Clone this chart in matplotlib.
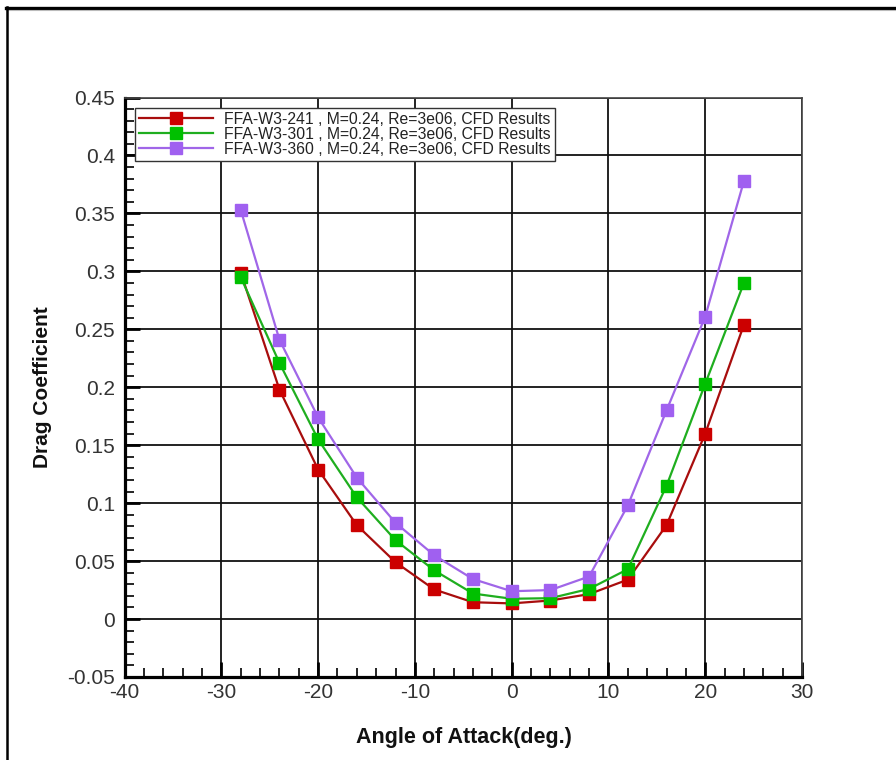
import matplotlib
matplotlib.use("Agg")
import matplotlib.pyplot as plt
from matplotlib.lines import Line2D
from matplotlib.ticker import MultipleLocator, FuncFormatter

plt.rcParams['font.family'] = ['Liberation Sans', 'DejaVu Sans']
plt.rcParams['axes.unicode_minus'] = False

# Angle of attack (deg.) and drag coefficients for the three airfoils
angles = [-28, -24, -20, -16, -12, -8, -4, 0, 4, 8, 12, 16, 20, 24]
cd_241 = [0.299, 0.198, 0.129, 0.081, 0.049, 0.0255, 0.0145, 0.0135,
          0.016, 0.0215, 0.034, 0.081, 0.160, 0.254]
cd_301 = [0.295, 0.221, 0.155, 0.105, 0.068, 0.042, 0.022, 0.0175,
          0.018, 0.026, 0.043, 0.115, 0.203, 0.290]
cd_360 = [0.353, 0.241, 0.174, 0.122, 0.083, 0.055, 0.0345, 0.024,
          0.025, 0.0367, 0.098, 0.180, 0.261, 0.378]

labels = ["FFA-W3-241 , M=0.24, Re=3e06, CFD Results",
          "FFA-W3-301 , M=0.24, Re=3e06, CFD Results",
          "FFA-W3-360 , M=0.24, Re=3e06, CFD Results"]
series = [cd_241, cd_301, cd_360]
line_colors = ["#a80d0d", "#1fae1f", "#a066e8"]
marker_colors = ["#cc0000", "#00c000", "#a060f0"]

W, H = 896, 760
fig = plt.figure(figsize=(W / 100, H / 100), dpi=100)
left, right, top, bottom = 124.6, 802, 97.5, 677
ax = fig.add_axes([left / W, 1 - bottom / H, (right - left) / W, (bottom - top) / H])

for vals, lab, lc, mc in zip(series, labels, line_colors, marker_colors):
    ax.plot(angles, vals, color=lc, lw=1.6, marker='s', markersize=8,
            markerfacecolor=mc, markeredgecolor=mc, label=lab, zorder=3)

ax.set_xlim(-40, 30)
ax.set_ylim(-0.05, 0.45)
ax.xaxis.set_major_locator(MultipleLocator(10))
ax.xaxis.set_minor_locator(MultipleLocator(2))
ax.yaxis.set_major_locator(MultipleLocator(0.05))
ax.yaxis.set_minor_locator(MultipleLocator(0.01))
ax.yaxis.set_major_formatter(FuncFormatter(lambda v, p: f"{v:.2f}".rstrip('0').rstrip('.') if abs(v) > 1e-9 else "0"))
ax.xaxis.set_major_formatter(FuncFormatter(lambda v, p: f"{int(round(v))}"))

ax.grid(True, which='major', color='#111111', lw=1.3)
ax.set_axisbelow(True)

ax.tick_params(which='both', direction='in', top=False, right=False, colors='black',
               labelcolor='#333333', labelsize=15)
ax.tick_params(which='major', length=11, width=2)
ax.tick_params(which='minor', length=6.5, width=1.2)
ax.tick_params(axis='y', which='major', pad=7)
ax.tick_params(axis='x', which='major', pad=4)

for s in ['left', 'bottom']:
    ax.spines[s].set_linewidth(2.3)
    ax.spines[s].set_color('black')
for s in ['top', 'right']:
    ax.spines[s].set_linewidth(1.2)
    ax.spines[s].set_color('#444444')

ax.set_xlabel("Angle of Attack(deg.)", fontsize=15.5, fontweight='bold', color='#111111')
ax.set_ylabel("Drag Coefficient", fontsize=15, fontweight='bold', color='#111111')
ax.xaxis.set_label_coords(0.501, -0.086)
ax.yaxis.set_label_coords(-0.107, 0.5)

leg = ax.legend(loc='upper left', bbox_to_anchor=(0.0154, 0.982), borderaxespad=0,
                fontsize=11.3, labelspacing=0.0, handlelength=4.7, handletextpad=0.75,
                borderpad=0.25, fancybox=False, framealpha=1, edgecolor='#333333')
leg.get_frame().set_linewidth(1.0)
for t in leg.get_texts():
    t.set_color('#222222')

# outer frame lines
fig.add_artist(Line2D([6 / W, 1], [1 - 7.5 / H, 1 - 7.5 / H], color='black', lw=2.4,
                      transform=fig.transFigure))
fig.add_artist(Line2D([6 / W, 1], [1 - 10 / H, 1 - 10 / H], color='#bbbbbb', lw=0.8,
                      transform=fig.transFigure))
fig.add_artist(Line2D([6.5 / W, 6.5 / W], [0, 1 - 6.5 / H], color='black', lw=1.8,
                      transform=fig.transFigure))

fig.savefig("out.png", dpi=100)
